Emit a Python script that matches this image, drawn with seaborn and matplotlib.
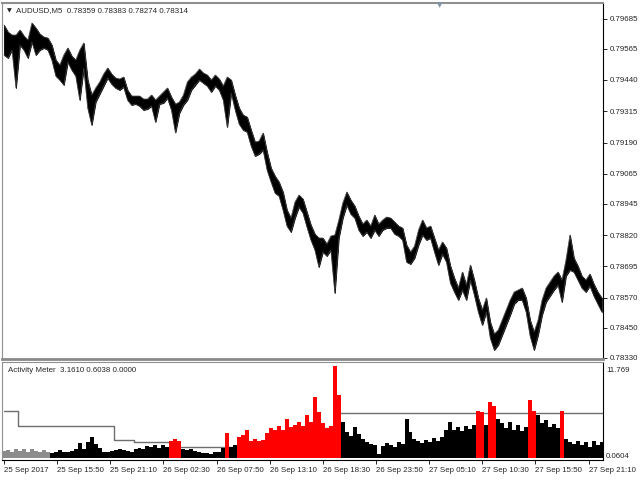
import numpy as np
import pandas as pd
import matplotlib.pyplot as plt
import seaborn as sns

# price samples (every ~24 min), high / low
high = [0.7966, 0.79632, 0.7962, 0.7962, 0.7964, 0.79616, 0.796, 0.79668, 0.79648, 0.79624,
        0.79612, 0.79608, 0.7958, 0.7952, 0.795, 0.7954, 0.79568, 0.79536, 0.7952, 0.7956,
        0.79588, 0.7944, 0.7938, 0.79408, 0.79432, 0.79464, 0.79488, 0.79464, 0.79448, 0.79444,
        0.79452, 0.794, 0.79376, 0.79376, 0.79376, 0.79364, 0.79364, 0.7938, 0.7936, 0.79376,
        0.79392, 0.79408, 0.79372, 0.79344, 0.79352, 0.7938, 0.79432, 0.79452, 0.79464, 0.79484,
        0.79468, 0.7946, 0.7944, 0.7946, 0.79444, 0.79416, 0.79452, 0.7944, 0.7938, 0.79328,
        0.793, 0.79292, 0.7924, 0.79192, 0.79196, 0.79228, 0.79152, 0.79088, 0.79056, 0.79032,
        0.78992, 0.7892, 0.78888, 0.78952, 0.7898, 0.78964, 0.78912, 0.7886, 0.78824, 0.78808,
        0.78808, 0.78784, 0.78816, 0.7882, 0.7888, 0.78948, 0.78992, 0.7896, 0.78936, 0.78896,
        0.78864, 0.7888, 0.78856, 0.789, 0.78864, 0.7888, 0.78892, 0.78888, 0.78872, 0.78856,
        0.78848, 0.7878, 0.78752, 0.78776, 0.7884, 0.7888, 0.78848, 0.78856, 0.78808, 0.7876,
        0.78792, 0.78768, 0.78696, 0.78648, 0.78608, 0.78672, 0.7862, 0.787, 0.7864, 0.78568,
        0.7852, 0.78568, 0.78472, 0.78424, 0.7844, 0.7848, 0.7852, 0.7856, 0.78592, 0.786,
        0.78608, 0.78568, 0.7848, 0.78432, 0.7848, 0.7856, 0.78608, 0.78632, 0.78656, 0.78672,
        0.7864, 0.7872, 0.7882, 0.78728, 0.78696, 0.78656, 0.7864, 0.78664, 0.78624, 0.78592,
        0.78568]
low = [0.7954, 0.79528, 0.7956, 0.79408, 0.7958, 0.7956, 0.79528, 0.79592, 0.7954, 0.7956,
       0.79568, 0.7956, 0.7952, 0.79456, 0.7944, 0.7942, 0.79512, 0.7948, 0.79456, 0.7936,
       0.79488, 0.79328, 0.7926, 0.79352, 0.79384, 0.79416, 0.79448, 0.79424, 0.79408, 0.794,
       0.79412, 0.7936, 0.7934, 0.79344, 0.79336, 0.7932, 0.79324, 0.79336, 0.79272, 0.79344,
       0.79348, 0.79368, 0.7932, 0.7923, 0.79308, 0.7934, 0.7936, 0.794, 0.7942, 0.7944,
       0.79428, 0.79416, 0.79392, 0.79416, 0.794, 0.7936, 0.79252, 0.79388, 0.7932, 0.79264,
       0.7924, 0.79232, 0.79176, 0.79136, 0.79144, 0.7916, 0.7908, 0.79032, 0.78988, 0.78976,
       0.7892, 0.78856, 0.78832, 0.78888, 0.78932, 0.78908, 0.78852, 0.788, 0.7876, 0.78692,
       0.78752, 0.78736, 0.7876, 0.78588, 0.78808, 0.78888, 0.7894, 0.78904, 0.78888, 0.7884,
       0.78816, 0.78832, 0.78808, 0.7884, 0.78816, 0.7884, 0.78848, 0.78848, 0.78824, 0.78816,
       0.788, 0.78712, 0.78704, 0.78728, 0.7878, 0.7882, 0.788, 0.78808, 0.78752, 0.787,
       0.78744, 0.78712, 0.78628, 0.78592, 0.7856, 0.786, 0.7856, 0.7864, 0.7858, 0.78512,
       0.7846, 0.78512, 0.78408, 0.7836, 0.7838, 0.7842, 0.7846, 0.785, 0.78544, 0.7856,
       0.7856, 0.78512, 0.78416, 0.7836, 0.7842, 0.785, 0.78552, 0.78576, 0.786, 0.7862,
       0.78552, 0.78656, 0.7868, 0.78672, 0.7864, 0.78608, 0.78592, 0.78616, 0.78576, 0.78544,
       0.78512]

# Activity Meter histogram
activity = [0.9, 1.0, 0.8, 1.2, 0.9, 1.1, 0.8, 1.2, 0.9, 0.8,
            1.0, 0.8, 0.6, 0.7, 1.0, 0.8, 0.7, 0.9, 1.1, 1.9,
            1.2, 2.0, 2.7, 1.8, 1.3, 0.8, 0.7, 0.9, 1.0, 1.1,
            1.0, 0.9, 0.8, 1.1, 1.3, 1.2, 1.5, 1.4, 1.7, 1.3,
            1.6, 1.4, 2.2, 2.4, 2.1, 1.1, 1.0, 1.2, 0.9, 0.8,
            0.6, 0.6, 0.5, 0.7, 0.8, 1.3, 3.2, 1.4, 1.6, 2.6,
            2.9, 3.6, 2.2, 2.4, 2.1, 2.3, 3.2, 3.8, 3.5, 4.0,
            3.6, 4.9, 3.9, 4.2, 4.5, 4.0, 5.5, 4.6, 7.7, 5.8,
            4.4, 3.8, 4.0, 11.7, 8.0, 4.6, 3.3, 2.8, 3.9, 3.0,
            2.4, 2.0, 1.8, 1.6, 0.5, 1.5, 1.9, 1.7, 1.4, 2.0,
            1.8, 5.0, 3.3, 2.4, 2.1, 1.9, 2.3, 2.0, 2.5, 2.2,
            2.6, 3.6, 4.6, 3.5, 3.9, 3.4, 4.0, 3.7, 4.2, 5.9,
            5.8, 4.2, 7.1, 6.6, 5.0, 4.4, 3.8, 4.6, 3.6, 4.2,
            3.4, 3.9, 7.4, 6.0, 5.5, 4.4, 4.8, 3.9, 4.3, 3.8,
            5.9, 2.4, 2.0, 1.8, 2.2, 1.6, 2.0, 1.4, 2.1, 1.7,
            2.0]
gray_count = 12
red_idx = [42, 43, 44, 56] + list(range(59, 85)) + [119, 120, 122, 123, 132, 133, 140]

# threshold level line (step values and run lengths)
thr_levels = [5.95, 4.05, 2.28, 2.0, 1.4, 3.8, 5.7]
thr_runs = [4, 24, 5, 11, 31, 9, 67]

price_ticks = [0.79685, 0.79565, 0.79440, 0.79315, 0.79190, 0.79065,
               0.78945, 0.78820, 0.78695, 0.78570, 0.78450, 0.78330]
date_labels = ["25 Sep 2017", "25 Sep 15:50", "25 Sep 21:10", "26 Sep 02:30",
               "26 Sep 07:50", "26 Sep 13:10", "26 Sep 18:30", "26 Sep 23:50",
               "27 Sep 05:10", "27 Sep 10:30", "27 Sep 15:50", "27 Sep 21:10"]

sns.set_style("white")
plt.rcParams["font.family"] = ["Liberation Sans", "DejaVu Sans"]
fs = 5.7

x = np.arange(len(high))
state = np.array(["black"] * len(activity), dtype=object)
state[:gray_count] = "gray"
state[red_idx] = "red"
df = pd.DataFrame({"i": x, "activity": activity, "state": state})
threshold = np.repeat(thr_levels, thr_runs)

fig = plt.figure(figsize=(6.4, 4.8), dpi=100)
ax1 = fig.add_axes([2 / 640, 1 - 359 / 480, 601 / 640, 356 / 480])
ax2 = fig.add_axes([2 / 640, 1 - 460 / 480, 601 / 640, 98 / 480])

# price panel
ax1.fill_between(x, low, high, color="black", lw=0.6)
sns.lineplot(x=x, y=high, color="#404040", lw=0.5, ax=ax1)
sns.lineplot(x=x, y=low, color="#404040", lw=0.5, ax=ax1)
ax1.set_xlim(-0.5, 150.3)
ax1.set_ylim(0.78324, 0.79748)
ax1.set_xticks([])
ax1.yaxis.tick_right()
ax1.set_yticks(price_ticks)
ax1.set_yticklabels([f"{p:.5f}" for p in price_ticks])
ax1.tick_params(axis="y", length=3, width=0.7, pad=1.5, labelsize=fs, direction="out")
ax1.set_xlabel("")
ax1.set_ylabel("")

# activity panel
sns.barplot(data=df, x="i", y="activity", hue="state",
            palette={"gray": "#8c8c8c", "black": "black", "red": "#ff0000"},
            dodge=False, width=1.0, native_scale=True, errorbar=None,
            saturation=1, linewidth=0, legend=False, ax=ax2)
sns.lineplot(x=x, y=threshold, color="#6e6e6e", lw=1.0, drawstyle="steps-mid",
             ax=ax2, zorder=0.5)
ax2.set_xlim(-0.5, 150.3)
ax2.set_ylim(-0.25, 12.15)
ax2.set_yticks([])
tick_pos = np.arange(len(date_labels)) * 320 / 24
ax2.set_xticks(tick_pos)
ax2.set_xticklabels(date_labels, ha="left")
ax2.tick_params(axis="x", length=3, width=0.7, pad=2, labelsize=fs, direction="out", bottom=True)
ax2.set_xlabel("")
ax2.set_ylabel("")

for ax in (ax1, ax2):
    ax.spines["left"].set_color("#909090")
    ax.spines["right"].set_color("black")
    ax.spines["top"].set_color("#909090")
    ax.spines["bottom"].set_color("black")
    for s in ax.spines.values():
        s.set_linewidth(0.8)
ax1.spines["bottom"].set_color("#8a8a8a")
ax1.spines["bottom"].set_linewidth(2.0)
ax1.spines["top"].set_linewidth(1.5)

fig.text(7 / 640, 1 - 11 / 480, "▼", fontsize=4.5, va="center", family="DejaVu Sans")
fig.text(16 / 640, 1 - 11 / 480, "AUDUSD,M5  0.78359 0.78383 0.78274 0.78314",
         fontsize=fs, va="center")
fig.text(440 / 640, 1 - 5 / 480, "▼", fontsize=5, va="center", ha="center",
         color="#7f93a8", family="DejaVu Sans")
fig.text(8 / 640, 1 - 371 / 480, "Activity Meter  3.1610 0.6038 0.0000",
         fontsize=fs, va="center")
fig.text(606 / 640, 1 - 370 / 480, "11.769", fontsize=fs, va="center")
fig.text(606 / 640, 1 - 457 / 480, "0.0604", fontsize=fs, va="center")

fig.savefig("out.png", dpi=100)
